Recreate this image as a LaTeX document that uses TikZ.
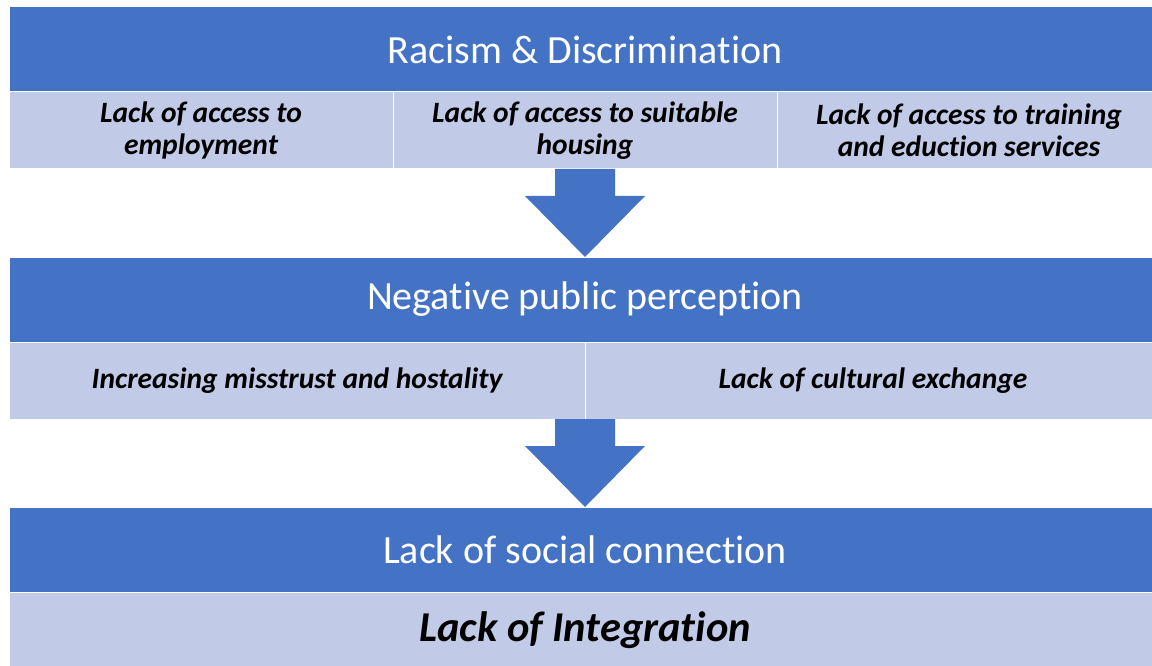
\documentclass[tikz,border=0pt]{standalone}
\usepackage{fontspec}
\setmainfont{Carlito}[Ligatures=NoCommon]
\usetikzlibrary{positioning,calc}
\definecolor{barblue}{RGB}{68,114,196}
\definecolor{causefill}{RGB}{193,202,230}
\tikzstyle{heading} = [rectangle, fill=barblue, draw=white, line width=1pt, outer sep=0pt, inner sep=0pt, text=white, minimum width=1152, minimum height=85, font=\fontsize{40}{44}\selectfont]
\tikzstyle{cause} = [rectangle, fill=causefill, draw=white, line width=1pt, outer sep=0pt, inner sep=0pt, text=black, align=center, minimum height=77, font=\fontsize{29.5}{32}\selectfont\bfseries\itshape]
\tikzstyle{blockarrow} = [fill=barblue]

\begin{document}
\begin{tikzpicture}[x=1pt,y=-1pt,node distance=0pt]
	\path [use as bounding box, clip] (0,0) rectangle (1152,666);
	%Place nodes
	\node [heading] (Racism) at (585,49.5) {Racism \& Discrimination};
	\node [cause, minimum width=384, below right=0pt of Racism.south west] (Employment) {Lack of access to\\employment};
	\node [cause, minimum width=384, right=of Employment] (Housing) {Lack of access to suitable\\housing};
	\node [cause, minimum width=384, right=of Housing] (Training) {Lack of access to training\\and eduction services};
	\node [heading, below=88pt of Housing] (Perception) {Negative public perception};
	\node [cause, minimum width=576, below right=0pt of Perception.south west] (Mistrust) {Increasing misstrust and hostality};
	\node [cause, minimum width=576, right=of Mistrust] (Exchange) {Lack of cultural exchange};
	\node [heading, below=88pt of Exchange.south west] (Connection) {Lack of social connection};
	\node [cause, minimum width=1152, minimum height=77, below=of Connection, font=\fontsize{42.5}{46}\selectfont\bfseries\itshape] (Integration) {Lack of Integration};

	%Block arrows between the levels
	\path [blockarrow] ($(Housing.south)+(-30,0)$) -- ($(Housing.south)+(30,0)$) -- ($(Housing.south)+(30,27)$) -- ($(Housing.south)+(60,27)$) -- (Perception.north) -- ($(Housing.south)+(-60,27)$) -- ($(Housing.south)+(-30,27)$) -- cycle;
	\path [blockarrow] ($(Exchange.south west)+(-30,0)$) -- ($(Exchange.south west)+(30,0)$) -- ($(Exchange.south west)+(30,27)$) -- ($(Exchange.south west)+(60,27)$) -- (Connection.north) -- ($(Exchange.south west)+(-60,27)$) -- ($(Exchange.south west)+(-30,27)$) -- cycle;
\end{tikzpicture}
\end{document}
